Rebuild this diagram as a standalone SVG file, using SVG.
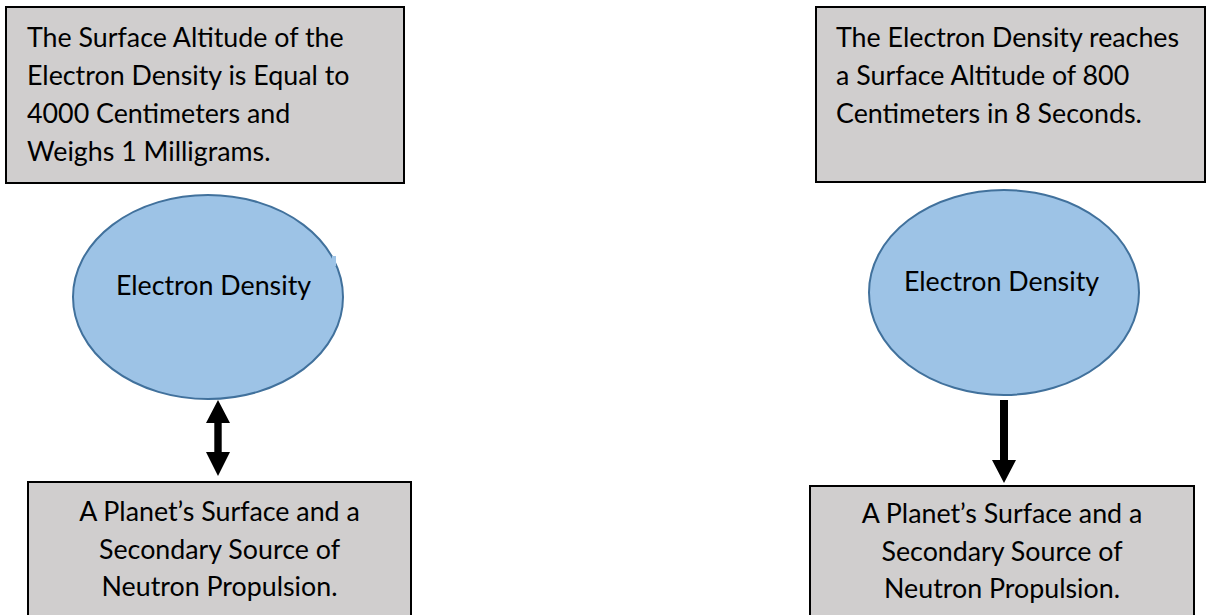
<svg xmlns="http://www.w3.org/2000/svg" width="1207" height="615" viewBox="0 0 1207 615">
  <style>
    .box { fill: #D0CECE; stroke: #000000; stroke-width: 2; }
    .oval { fill: #9DC3E6; stroke: #41719C; stroke-width: 2; }
    .txt { font-family: "Lato", "Liberation Sans", sans-serif; font-size: 26.8px; fill: #000000; }
    .mid { text-anchor: middle; }
    .arrow { fill: #000000; }
  </style>

  <rect x="0" y="0" width="1207" height="615" fill="#ffffff"/>

  <!-- Left column -->
  <g id="left-info">
    <rect class="box" x="6" y="7" width="398" height="176"/>
    <text class="txt" x="27" y="47">The Surface Altitude of the</text>
    <text class="txt" x="27" y="85">Electron Density is Equal to</text>
    <text class="txt" x="27" y="123">4000 Centimeters and</text>
    <text class="txt" x="27" y="161">Weighs 1 Milligrams.</text>
  </g>

  <g id="left-density">
    <ellipse class="oval" cx="208" cy="297" rx="135" ry="102"/>
    <rect x="332" y="256" width="4" height="10" fill="#9DC3E6"/>
    <text class="txt mid" x="213.5" y="295">Electron Density</text>
  </g>

  <g id="left-surface">
    <rect class="box" x="28" y="482" width="383" height="150"/>
    <text class="txt mid" x="219.5" y="521">A Planet’s Surface and a</text>
    <text class="txt mid" x="219.5" y="559">Secondary Source of</text>
    <text class="txt mid" x="219.5" y="596">Neutron Propulsion.</text>
  </g>

  <!-- Right column -->
  <g id="right-info">
    <rect class="box" x="816" y="7" width="389" height="175"/>
    <text class="txt" x="836" y="47">The Electron Density reaches</text>
    <text class="txt" x="836" y="85">a Surface Altitude of 800</text>
    <text class="txt" x="836" y="123">Centimeters in 8 Seconds.</text>
  </g>

  <g id="right-density">
    <ellipse class="oval" cx="1004" cy="292.5" rx="135" ry="102.5"/>
    <text class="txt mid" x="1001.5" y="291">Electron Density</text>
  </g>

  <g id="right-surface">
    <rect class="box" x="810" y="486" width="384" height="150"/>
    <text class="txt mid" x="1002" y="523">A Planet’s Surface and a</text>
    <text class="txt mid" x="1002" y="561">Secondary Source of</text>
    <text class="txt mid" x="1002" y="598">Neutron Propulsion.</text>
  </g>

  <!-- Connectors -->
  <g id="connectors">
    <!-- two-way arrow between left oval and left surface box -->
    <polygon class="arrow" points="218,400 230,423 221.7,423 221.7,452 230,452 218,476 206,452 214.3,452 214.3,423 206,423"/>
    <!-- one-way arrow from right oval down to right surface box -->
    <polygon class="arrow" points="1000,400 1008,400 1008,460 1016,460 1004,483 992,460 1000,460"/>
  </g>
</svg>
